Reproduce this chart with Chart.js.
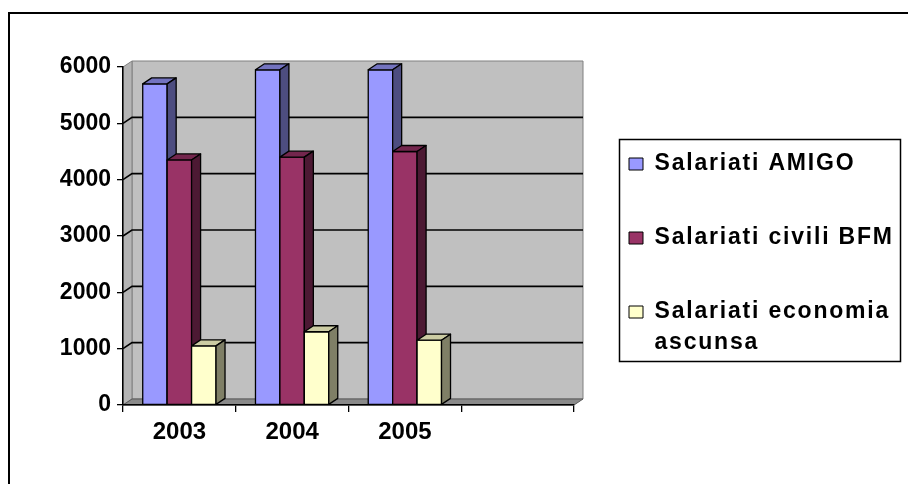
<!DOCTYPE html>
<html>
<head>
<meta charset="utf-8">
<script src="https://cdn.jsdelivr.net/npm/chart.js@4"></script>
<style>
  html, body { margin: 0; padding: 0; background: #fff; overflow: hidden; }
  #frame { position: absolute; left: 8px; top: 12px; width: 1000px; height: 1000px; border: 2px solid #000; box-sizing: border-box; }
  #chart { position: absolute; left: 0; top: 0; }
</style>
</head>
<body>
<div id="frame"></div>
<canvas id="chart" width="908" height="484"></canvas>
<script>
const years = ['2003', '2004', '2005', ''];
const amigo = [5700, 5950, 5950, null];
const civiliBfm = [4350, 4400, 4500, null];
const economiaAscunsa = [1050, 1300, 1150, null];
const yMax = 6000, yStep = 1000;

const dx = 9, dy = -6;
const font = 'Liberation Sans, Arial, sans-serif';

// walls, floor and gridlines of the 3d box
const walls = {
    id: 'walls',
    beforeDraw(chart) { chart.ctx.letterSpacing = '1.8px'; },
    beforeDatasetsDraw(chart) {
        const { ctx, chartArea: a, scales: { y } } = chart;
        ctx.letterSpacing = '0px';
        const y0 = y.getPixelForValue(0), yt = y.getPixelForValue(yMax);
        const poly = (pts, fill, stroke) => {
            ctx.beginPath();
            pts.forEach((p, i) => i ? ctx.lineTo(p[0], p[1]) : ctx.moveTo(p[0], p[1]));
            ctx.closePath();
            ctx.fillStyle = fill; ctx.fill();
            ctx.strokeStyle = stroke; ctx.stroke();
        };
        ctx.save();
        ctx.lineWidth = 1;
        poly([[a.left + dx, yt + dy], [a.right + dx, yt + dy], [a.right + dx, y0 + dy], [a.left + dx, y0 + dy]], '#C0C0C0', '#808080');
        poly([[a.left, yt], [a.left + dx, yt + dy], [a.left + dx, y0 + dy], [a.left, y0]], '#B4B4B4', '#808080');
        poly([[a.left, y0], [a.left + dx, y0 + dy], [a.right + dx, y0 + dy], [a.right, y0]], '#8A8A8A', '#5A5A5A');
        ctx.strokeStyle = '#000';
        ctx.lineWidth = 1.6;
        y.ticks.forEach(t => {
            if (t.value <= 0 || t.value >= yMax) return;
            const py = y.getPixelForValue(t.value);
            ctx.beginPath();
            ctx.moveTo(a.left, py);
            ctx.lineTo(a.left + dx, py + dy);
            ctx.lineTo(a.right + dx, py + dy);
            ctx.stroke();
        });
        ctx.restore();
    },
    afterDatasetsDraw(chart) {
        const ctx = chart.ctx;
        ctx.save();
        ctx.lineWidth = 1.3;
        ctx.strokeStyle = '#000';
        ctx.lineJoin = 'round';
        const poly = (pts, fill) => {
            ctx.beginPath();
            pts.forEach((p, i) => i ? ctx.lineTo(p[0], p[1]) : ctx.moveTo(p[0], p[1]));
            ctx.closePath();
            ctx.fillStyle = fill; ctx.fill(); ctx.stroke();
        };
        years.forEach((_, i) => {
            chart.data.datasets.forEach((ds, d) => {
                if (ds.data[i] == null) return;
                const { x, y, base, width } = chart.getDatasetMeta(d).data[i].getProps(['x', 'y', 'base', 'width'], true);
                const l = x - width / 2, r = x + width / 2;
                poly([[l, y], [r, y], [r, base], [l, base]], ds.backgroundColor);
                poly([[l, y], [l + dx, y + dy], [r + dx, y + dy], [r, y]], ds.topColor);
                poly([[r, y], [r + dx, y + dy], [r + dx, base + dy], [r, base]], ds.sideColor);
            });
        });
        ctx.restore();
    },
    afterLayout(chart) {
        const lg = chart.legend;
        lg.left = 578; lg.top = 101.5; lg.right = 900; lg.bottom = 484;
        lg.width = lg.right - lg.left; lg.height = lg.bottom - lg.top;
    },
    afterDraw(chart) {
        const ctx = chart.ctx;
        ctx.save();
        ctx.strokeStyle = '#000';
        ctx.lineWidth = 1.5;
        ctx.strokeRect(619.5, 139.5, 281, 222);
        ctx.restore();
    }
};

new Chart(document.getElementById('chart'), {
    type: 'bar',
    data: {
        labels: years,
        datasets: [
            { label: 'Salariati AMIGO', data: amigo, backgroundColor: '#9999FF', topColor: '#7373BF', sideColor: '#4D4D80' },
            { label: 'Salariati civili BFM', data: civiliBfm, backgroundColor: '#993366', topColor: '#73264D', sideColor: '#4C1933' },
            { label: ['Salariati economia', 'ascunsa'], data: economiaAscunsa, backgroundColor: '#FFFFCC', topColor: '#CCCCA3', sideColor: '#7F7F66' }
        ].map(ds => Object.assign(ds, { borderColor: '#000', borderWidth: 1, categoryPercentage: 0.65, barPercentage: 1 }))
    },
    options: {
        responsive: false,
        animation: false,
        layout: { padding: { left: 0, top: 67, right: 334, bottom: 0 } },
        plugins: {
            tooltip: { enabled: false },
            legend: {
                position: 'chartArea',
                align: 'start',
                labels: {
                    color: '#000',
                    boxWidth: 14,
                    boxHeight: 12,
                    padding: 51,
                    font: { family: font, size: 23, weight: 'bold', lineHeight: 1.35 }
                }
            }
        },
        scales: {
            x: {
                grid: { display: true, drawOnChartArea: false, offset: true, color: '#000', tickLength: 7, lineWidth: 1.3 },
                border: { display: true, color: '#000', width: 1.5, z: 1 },
                ticks: { color: '#000', padding: 6, z: 1, font: { family: font, size: 24, weight: 'bold' } },
                afterFit(scale) { scale.height = 79; }
            },
            y: {
                min: 0,
                max: yMax,
                grid: { display: true, drawOnChartArea: false, color: '#000', tickLength: 6, lineWidth: 1.3 },
                border: { display: true, color: '#000', width: 1.5, z: 1 },
                ticks: { stepSize: yStep, color: '#000', padding: 6, z: 1, callback: v => String(v), font: { family: font, size: 23, weight: 'bold' } },
                afterFit(scale) { scale.width = 123; }
            }
        }
    },
    plugins: [walls]
});
</script>
</body>
</html>
